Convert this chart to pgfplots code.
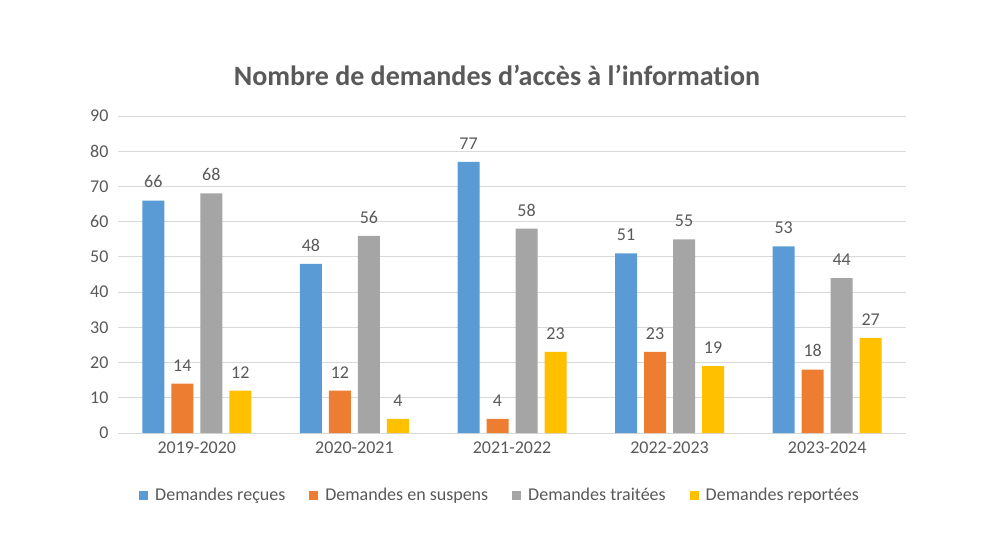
\documentclass[border=0pt]{standalone}
\usepackage{fontspec}
\setmainfont[Ligatures=NoCommon]{Carlito}
\usepackage{pgfplots}
\pgfplotsset{compat=1.18}
\definecolor{cblue}{HTML}{5B9BD5}
\definecolor{corange}{HTML}{ED7D31}
\definecolor{cgray}{HTML}{A5A5A5}
\definecolor{txt}{HTML}{595959}
\definecolor{cyellow}{HTML}{FFC000}
\definecolor{gridc}{HTML}{D9D9D9}
\begin{document}
\begin{tikzpicture}[x=1pt,y=1pt]
\useasboundingbox (-118,-117) rectangle (881,433);
\begin{axis}[
  at={(0,0)}, anchor=south west,
  scale only axis, width=788pt, height=317pt,
  ymin=0, ymax=90, ytick={0,10,...,90},
  xmin=-0.5, xmax=4.5, xtick={0,1,2,3,4},
  xticklabels={2019-2020,2020-2021,2021-2022,2022-2023,2023-2024},
  ybar=7pt, bar width=22pt,
  axis line style={draw=none},
  tick style={draw=none},
  xmajorgrids=false, ymajorgrids=true,
  y grid style={gridc, line width=0.8pt},
  ticklabel style={font=\fontsize{18}{20}\selectfont, text=txt},
  /pgf/number format/assume math mode=true,
  xticklabel style={yshift=-1pt},
  yticklabel style={xshift=-6pt},
  nodes near coords,
  every node near coord/.append style={font=\fontsize{18}{20}\selectfont, text=txt, yshift=9pt},
  legend columns=4,
  legend style={draw=none, at={(axis description cs:0.5,0)}, anchor=center, yshift=-62pt, xshift=-12pt,
    font=\fontsize{18}{20}\selectfont, text=txt,
    /tikz/every even column/.append style={column sep=22pt}},
  legend image code/.code={\fill[#1,draw=none] (-4pt,-4.5pt) rectangle (5pt,4.5pt);},
]
\addplot[fill=cblue, draw=none] coordinates {(0,66) (1,48) (2,77) (3,51) (4,53)};
\addplot[fill=corange, draw=none] coordinates {(0,14) (1,12) (2,4) (3,23) (4,18)};
\addplot[fill=cgray, draw=none] coordinates {(0,68) (1,56) (2,58) (3,55) (4,44)};
\addplot[fill=cyellow, draw=none] coordinates {(0,12) (1,4) (2,23) (3,19) (4,27)};
\legend{\hspace*{5pt}Demandes reçues, \hspace*{5pt}Demandes en suspens, \hspace*{5pt}Demandes traitées, \hspace*{5pt}Demandes reportées}
\end{axis}
\node[font=\fontsize{28}{32}\selectfont\bfseries, text=txt] at (379,358) {Nombre de demandes d’accès à l’information};
\end{tikzpicture}
\end{document}
